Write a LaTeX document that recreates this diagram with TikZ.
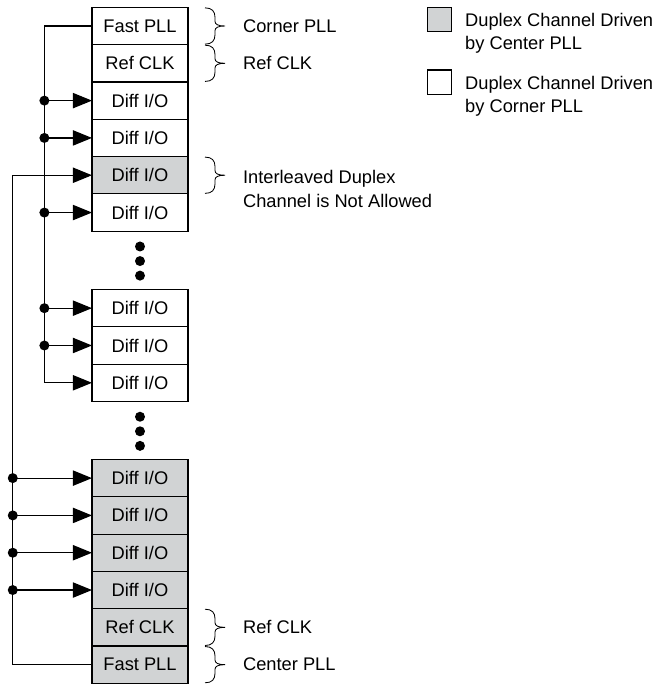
\documentclass[tikz,border=0pt]{standalone}
\usepackage{fontspec}
\setmainfont{Liberation Sans}
\usepackage{tikz}
\usetikzlibrary{positioning,arrows.meta}
\definecolor{centergray}{RGB}{209,211,212}

\newcommand{\sidebrace}[1]{%
  \draw[curly] ([shift={(17,0.5)}]#1.north east)
    .. controls +(7,0) and +(0,-6) .. ++(10,9.5) -- ++(0,4)
    .. controls +(0,3) and +(-7,0) .. ++(10,4.65)
    .. controls +(-7,0) and +(0,-3) .. ++(-10,4.65) -- ++(0,4)
    .. controls +(0,6) and +(7,0) .. ++(-10,9.5);}

\begin{document}
\begin{tikzpicture}[
    x=0.025cm, y=-0.025cm,
    font=\fontsize{13}{16.6}\selectfont,
    cell/.style={draw, line width=0.8pt, minimum width=2.4cm, minimum height=0.9325cm, inner sep=0pt, outer sep=0pt},
    ctrcell/.style={cell, fill=centergray},
    key/.style={cell, minimum width=0.61cm, minimum height=0.61cm},
    dot/.style={circle, fill, inner sep=0pt, minimum size=0.25cm},
    feed/.style={line width=0.85pt, -{Triangle[length=0.475cm, width=0.38cm]}},
    curly/.style={line width=0.6pt},
    note/.style={inner sep=0pt, align=left}
  ]
    \useasboundingbox (0,0) rectangle (660,684);
    % corner PLL side
    \node[cell] (fpll1) at (140,26) {Fast PLL};
    \node[cell, below=0pt of fpll1] (ref1) {Ref CLK};
    \node[cell, below=0pt of ref1] (io1) {Diff I/O};
    \node[cell, below=0pt of io1] (io2) {Diff I/O};
    \node[ctrcell, below=0pt of io2] (io3) {Diff I/O};
    \node[cell, below=0pt of io3] (io4) {Diff I/O};
    \node[dot, below=0.25cm of io4] (gapa1) {};
    \node[dot, below=0.1cm of gapa1] (gapa2) {};
    \node[dot, below=0.1cm of gapa2] (gapa3) {};
    \node[cell, below=1.4575cm of io4] (io5) {Diff I/O};
    \node[cell, below=0pt of io5] (io6) {Diff I/O};
    \node[cell, below=0pt of io6] (io7) {Diff I/O};
    \node[dot, below=0.25cm of io7] (gapb1) {};
    \node[dot, below=0.1cm of gapb1] (gapb2) {};
    \node[dot, below=0.1cm of gapb2] (gapb3) {};
    % center PLL side
    \node[ctrcell, below=1.45cm of io7] (io8) {Diff I/O};
    \node[ctrcell, below=0pt of io8] (io9) {Diff I/O};
    \node[ctrcell, below=0pt of io9] (io10) {Diff I/O};
    \node[ctrcell, below=0pt of io10] (io11) {Diff I/O};
    \node[ctrcell, below=0pt of io11] (ref2) {Ref CLK};
    \node[ctrcell, below=0pt of ref2] (fpll2) {Fast PLL};

    % clock buses
    \coordinate (busa) at ([xshift=-1.19cm]fpll1.west);
    \coordinate (busb) at ([xshift=-1.98cm]fpll2.west);
    \draw[feed] (fpll1.west) -- (busa) |- (io7.west);
    \foreach \n in {io1,io2,io4,io5,io6}
      \draw[feed] (busa |- \n.west) node[dot] (j\n) {} -- (\n.west);
    \draw[feed] (fpll2.west) -- (busb) |- (io3.west);
    \foreach \n in {io8,io9,io10,io11}
      \draw[feed] (busb |- \n.west) node[dot] (j\n) {} -- (\n.west);

    % braces and notes
    \sidebrace{fpll1}
    \sidebrace{ref1}
    \sidebrace{io3}
    \sidebrace{ref2}
    \sidebrace{fpll2}
    \node[note, right=1.37cm of fpll1] (lcorner) {Corner PLL};
    \node[note, right=1.37cm of ref1] (lref1) {Ref CLK};
    \node[note, right=1.37cm of io3, yshift=-0.34cm] (lnote) {Interleaved Duplex\\Channel is Not Allowed};
    \node[note, right=1.37cm of ref2] (lref2) {Ref CLK};
    \node[note, right=1.37cm of fpll2] (lcenter) {Center PLL};

    % legend
    \node[key, fill=centergray] (keyc) at (439.5,19.5) {};
    \node[note, right=0.33cm of keyc, yshift=-0.35cm] (keyctxt) {Duplex Channel Driven\\by Center PLL};
    \node[key] (keyw) at (439.5,82.2) {};
    \node[note, right=0.33cm of keyw, yshift=-0.35cm] (keywtxt) {Duplex Channel Driven\\by Corner PLL};
  \end{tikzpicture}
\end{document}
